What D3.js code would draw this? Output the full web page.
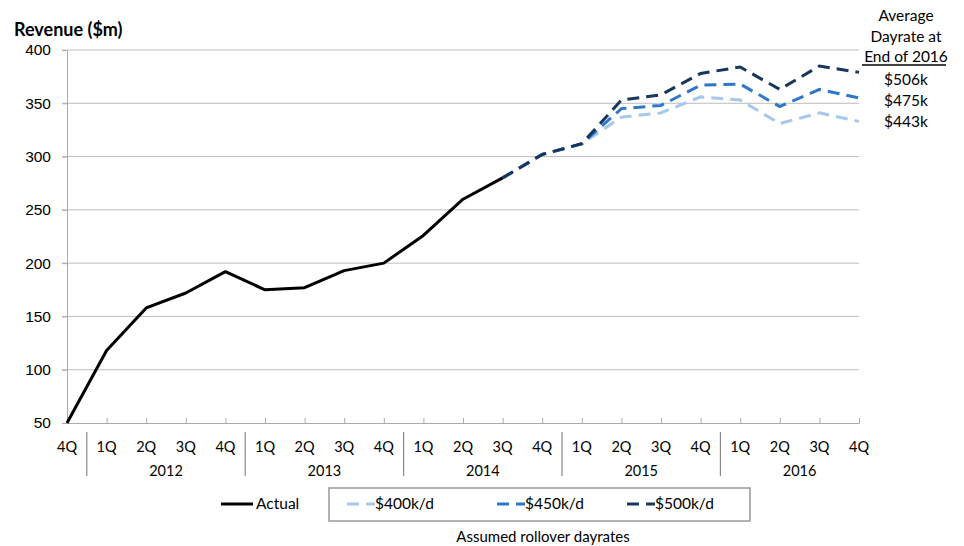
<!DOCTYPE html>
<html>
<head>
<meta charset="utf-8">
<script src="https://cdn.jsdelivr.net/npm/d3@7"></script>
<style>
body { margin: 0; background: #fff; }
svg { font-family: Lato, "Open Sans", sans-serif; }
</style>
</head>
<body>
<div id="container"></div>
<script>
const quarters = ['4Q', '1Q', '2Q', '3Q', '4Q', '1Q', '2Q', '3Q', '4Q', '1Q', '2Q', '3Q', '4Q',
    '1Q', '2Q', '3Q', '4Q', '1Q', '2Q', '3Q', '4Q'];
const years = ['2012', '2013', '2014', '2015', '2016'];
const actual = [50, 118, 158, 172, 192, 175, 177, 193, 200, 226, 260, 280];
// projections start at 3Q 2014 (index 11)
const rate400 = [280, 302, 312, 337, 341, 356, 353, 331, 341, 333];
const rate450 = [280, 302, 312, 345, 348, 367, 368, 347, 363, 355];
const rate500 = [280, 302, 312, 353, 358, 378, 384, 363, 385, 379];
const yTicks = [50, 100, 150, 200, 250, 300, 350, 400];
const endRates = ['$506k', '$475k', '$443k'];

const margin = { top: 50, left: 67 };
const width = 792;
const height = 373;

const svg = d3.select('#container')
    .append('svg')
    .attr('width', 964)
    .attr('height', 546);

const g = svg.append('g')
    .attr('transform', `translate(${margin.left}, ${margin.top})`);

const x = d3.scaleLinear().domain([0, quarters.length - 1]).range([0, width]);
const y = d3.scaleLinear().domain([50, 400]).range([height, 0]);

// grid
g.append('g')
    .selectAll('line')
    .data(yTicks.slice(1)).enter()
    .append('line')
    .attr('x1', -5)
    .attr('x2', width)
    .attr('y1', d => y(d))
    .attr('y2', d => y(d))
    .attr('stroke', '#bdbdbd')
    .attr('stroke-width', 1);

// y axis
const yAxis = g.append('g')
    .call(d3.axisLeft(y).tickValues(yTicks).tickSize(5).tickPadding(11));
yAxis.select('.domain').attr('stroke', '#aaa');
yAxis.selectAll('.tick line').attr('stroke', '#aaa');
yAxis.selectAll('text').attr('font-size', 15.5).attr('fill', '#000');

// x axis
const xAxis = g.append('g')
    .attr('transform', `translate(0, ${height})`)
    .call(d3.axisBottom(x).tickValues(d3.range(quarters.length)).tickSize(-5).tickFormat(''));
xAxis.select('.domain').attr('stroke', '#aaa');
xAxis.selectAll('.tick line').attr('stroke', '#aaa');

g.append('g')
    .selectAll('text')
    .data(quarters).enter()
    .append('text')
    .attr('x', (d, i) => x(i))
    .attr('y', height + 29)
    .attr('text-anchor', 'middle')
    .attr('font-size', 14.5)
    .text(d => d);

const step = x(1) - x(0);
g.append('g')
    .selectAll('line')
    .data(years).enter()
    .append('line')
    .attr('x1', (d, i) => x(i * 4) + step / 2)
    .attr('x2', (d, i) => x(i * 4) + step / 2)
    .attr('y1', height + 9)
    .attr('y2', height + 53)
    .attr('stroke', '#888')
    .attr('stroke-width', 1.2);

g.append('g')
    .selectAll('text')
    .data(years).enter()
    .append('text')
    .attr('x', (d, i) => (x(i * 4 + 1) + x(i * 4 + 4)) / 2)
    .attr('y', height + 53)
    .attr('text-anchor', 'middle')
    .attr('font-size', 14.5)
    .text(d => d);

// lines
const line = d3.line().x(d => x(d.i)).y(d => y(d.v));
const proj = [
    { name: '$400k/d', values: rate400, color: '#a6c8ec' },
    { name: '$450k/d', values: rate450, color: '#2f77c9' },
    { name: '$500k/d', values: rate500, color: '#17375e' }
];

proj.forEach(s => {
    g.append('path')
        .datum(s.values.map((v, i) => ({ i: i + 11, v })))
        .attr('d', line)
        .attr('fill', 'none')
        .attr('stroke', s.color)
        .attr('stroke-width', 3)
        .attr('stroke-dasharray', '12,7');
});

g.append('path')
    .datum(actual.map((v, i) => ({ i, v })))
    .attr('d', line)
    .attr('fill', 'none')
    .attr('stroke', '#000')
    .attr('stroke-width', 3)
    .attr('stroke-linejoin', 'round');

// titles
svg.append('text')
    .attr('x', 14)
    .attr('y', 36)
    .attr('font-size', 18)
    .attr('font-weight', 'bold')
    .text('Revenue ($m)');

const note = svg.append('g').attr('font-size', 15.5).attr('text-anchor', 'middle');
['Average', 'Dayrate at', 'End of 2016'].forEach((t, i) => {
    note.append('text').attr('x', 906).attr('y', 21 + i * 20.5).text(t);
});
note.append('line')
    .attr('x1', 862).attr('x2', 946)
    .attr('y1', 65).attr('y2', 65)
    .attr('stroke', '#000').attr('stroke-width', 1.5);
endRates.forEach((t, i) => {
    note.append('text').attr('x', 906).attr('y', 85 + i * 21).text(t);
});

// legend
const leg = svg.append('g').attr('font-size', 15.5);
leg.append('line')
    .attr('x1', 221).attr('x2', 253).attr('y1', 504).attr('y2', 504)
    .attr('stroke', '#000').attr('stroke-width', 3);
leg.append('text').attr('x', 256).attr('y', 509).text('Actual');

leg.append('rect')
    .attr('x', 329).attr('y', 488).attr('width', 421).attr('height', 33)
    .attr('fill', 'none').attr('stroke', '#999').attr('stroke-width', 1.5);

const legX = [347, 497, 627];
proj.forEach((s, i) => {
    leg.append('line')
        .attr('x1', legX[i]).attr('x2', legX[i] + 28).attr('y1', 504).attr('y2', 504)
        .attr('stroke', s.color).attr('stroke-width', 3)
        .attr('stroke-dasharray', '12,7');
    leg.append('text').attr('x', legX[i] + 28).attr('y', 509).text(s.name);
});

svg.append('text')
    .attr('x', 543)
    .attr('y', 542)
    .attr('text-anchor', 'middle')
    .attr('font-size', 15)
    .text('Assumed rollover dayrates');
</script>
</body>
</html>
